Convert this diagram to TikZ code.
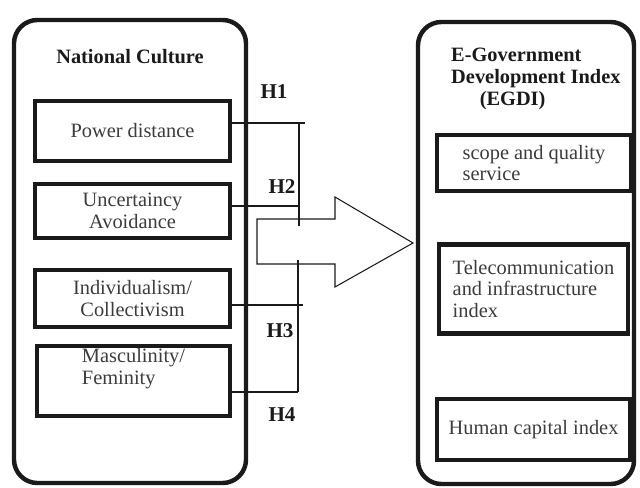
\documentclass[tikz,border=0pt]{standalone}
\usepackage{fontspec}
\setmainfont{Liberation Serif}
\usepackage{tikz}
\usetikzlibrary{positioning, calc}
\definecolor{ink}{HTML}{1A1A1A}
\definecolor{textgray}{HTML}{3C3C3C}
\tikzset{
  bigbox/.style={rectangle, rounded corners=20pt, draw=ink, line width=3.8pt},
  dimbox/.style={rectangle, draw=ink, line width=3.8pt, text=textgray,
    font=\fontsize{17.4}{18.7}\selectfont, align=center, inner sep=2pt},
  ttl/.style={font=\bfseries\fontsize{17.4}{18.9}\selectfont, text=ink, align=left, inner sep=0pt},
  hlbl/.style={font=\bfseries\fontsize{18}{20}\selectfont, text=ink, inner sep=0pt},
  cn/.style={draw=ink, line width=1.3pt},
  bigarrow/.style={draw=ink, line width=0.9pt, line join=miter},
}

\begin{document}
\begin{tikzpicture}[x=0.03cm, y=-0.03cm]
\useasboundingbox (0,0) rectangle (640,488);

% national culture side
\node[bigbox, minimum width=6.96cm, minimum height=13.89cm] (NC) at (130,251.5) {};
\node[ttl, anchor=base] (NCt) at (130,64) {National Culture};

\node[dimbox, minimum width=5.85cm, minimum height=1.8cm]  (PD) at (132.5,131) {Power distance};
\node[dimbox, minimum width=5.85cm, minimum height=1.62cm] (UA) at (132.5,211) {Uncertaincy\\Avoidance};
\node[dimbox, minimum width=5.85cm, minimum height=1.71cm] (IC) at (132.5,298.5) {Individualism/\\Collectivism};
\node[dimbox, minimum width=5.79cm, minimum height=1.8cm, align=left] (MF) at (133.5,381) {Masculinity/\\Feminity\\[6pt]};

% e-government side
\node[bigbox, minimum width=6.48cm, minimum height=13.86cm] (EG) at (526,253) {};
\node[ttl, anchor=base west] (EGt) at (451,106) {E-Government\\Development Index\\\hspace*{1.4em}(EGDI)};

\node[dimbox, minimum width=5.82cm, minimum height=1.68cm, align=left] (SQ) at (534,163) {scope and quality\\service};
\node[dimbox, minimum width=5.67cm, minimum height=2.67cm, align=left] (TI) at (533.5,289) {Telecommunication\\and infrastructure\\index};
\node[dimbox, minimum width=5.79cm, minimum height=1.83cm] (HC) at (533.5,429.5) {Human capital index};

% hypothesis labels
\node[hlbl, anchor=base] (H1) at (274,99)  {H1};
\node[hlbl, anchor=base] (H2) at (282,194) {H2};
\node[hlbl, anchor=base] (H3) at (280,338) {H3};
\node[hlbl, anchor=base] (H4) at (282,422) {H4};

% brackets
\coordinate (h1r) at (305,123);
\coordinate (b1t) at (299,123);
\coordinate (b1b) at (299,226);
\coordinate (h2r) at (299,206);
\coordinate (b2t) at (298,260);
\coordinate (b2b) at (298,392);
\coordinate (h3r) at (303,305);

\draw[cn] (PD.east |- h1r) -- (h1r);
\draw[cn] (b1t) -- (b1b);
\draw[cn] (UA.east |- h2r) -- (h2r);
\draw[cn] (b2t) -- (b2b);
\draw[cn] (IC.east |- h3r) -- (h3r);
\draw[cn] (MF.east |- b2b) -- (b2b);

% big arrow
\coordinate (tip) at (413,243);
\draw[bigarrow] (257,219) -- (335,219) -- (335,197) -- (tip) -- (335,287)
  -- (335,264) -- (257,264) -- cycle;
\end{tikzpicture}
\end{document}
